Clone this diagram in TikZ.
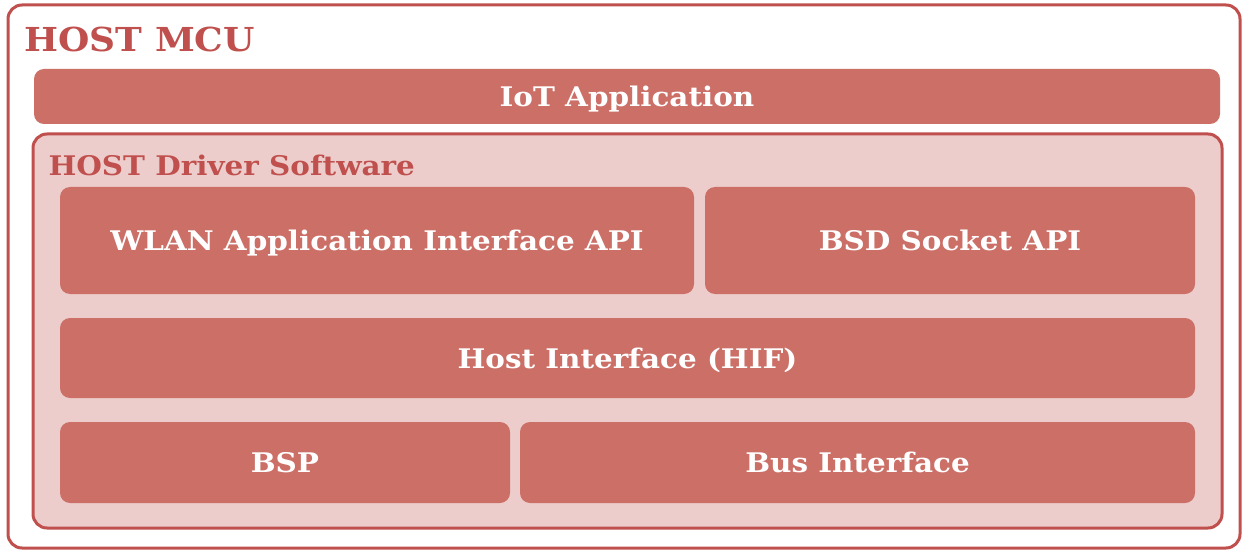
\documentclass[tikz,border=0pt]{standalone}
\usepackage{fontspec}
\setmainfont{DejaVu Serif}[FakeStretch=1.09]
\definecolor{hostred}{HTML}{C0504D}
\definecolor{blockred}{HTML}{CB6F67}
\definecolor{driverpink}{HTML}{EDCDCC}

\begin{document}
\begin{tikzpicture}[x=1pt,y=-1pt,
    layer/.style={fill=blockred, rounded corners=10pt, inner sep=0pt,
      text=white, text height=20pt, text depth=0pt,
      font=\bfseries\fontsize{27}{30}\selectfont},
    frame/.style={draw=hostred, line width=3pt, rounded corners=14pt, inner sep=0pt}]
  \useasboundingbox (0,0) rectangle (1246,553);
  % outer host box
  \node[frame, fill=white, minimum width=1232pt, minimum height=543pt] (mcu) at (624,276.5) {};
  \node[anchor=base west, text=hostred, font=\bfseries\fontsize{33}{36}\selectfont] (mcutitle) at (21,52) {HOST MCU};
  % application layer
  \node[layer, minimum width=1186pt, minimum height=55pt] (app) at (627,96.5) {IoT Application};
  % driver software
  \node[frame, fill=driverpink, minimum width=1189pt, minimum height=394pt] (driver) at (627.5,331) {};
  \node[anchor=base west, text=hostred, font=\bfseries\fontsize{27}{30}\selectfont] (drivertitle) at (45,176) {HOST Driver Software};
  % driver blocks
  \node[layer, minimum width=634pt, minimum height=107pt] (wlan) at (377,240.5) {WLAN Application Interface API};
  \node[layer, minimum width=490pt, minimum height=107pt] (bsd) at (950,240.5) {BSD Socket API};
  \node[layer, minimum width=1135pt, minimum height=80pt] (hif) at (627.5,358) {Host Interface (HIF)};
  \node[layer, minimum width=450pt, minimum height=81pt] (bsp) at (285,462.5) {BSP};
  \node[layer, minimum width=675pt, minimum height=81pt] (bus) at (857.5,462.5) {Bus Interface};
\end{tikzpicture}
\end{document}
